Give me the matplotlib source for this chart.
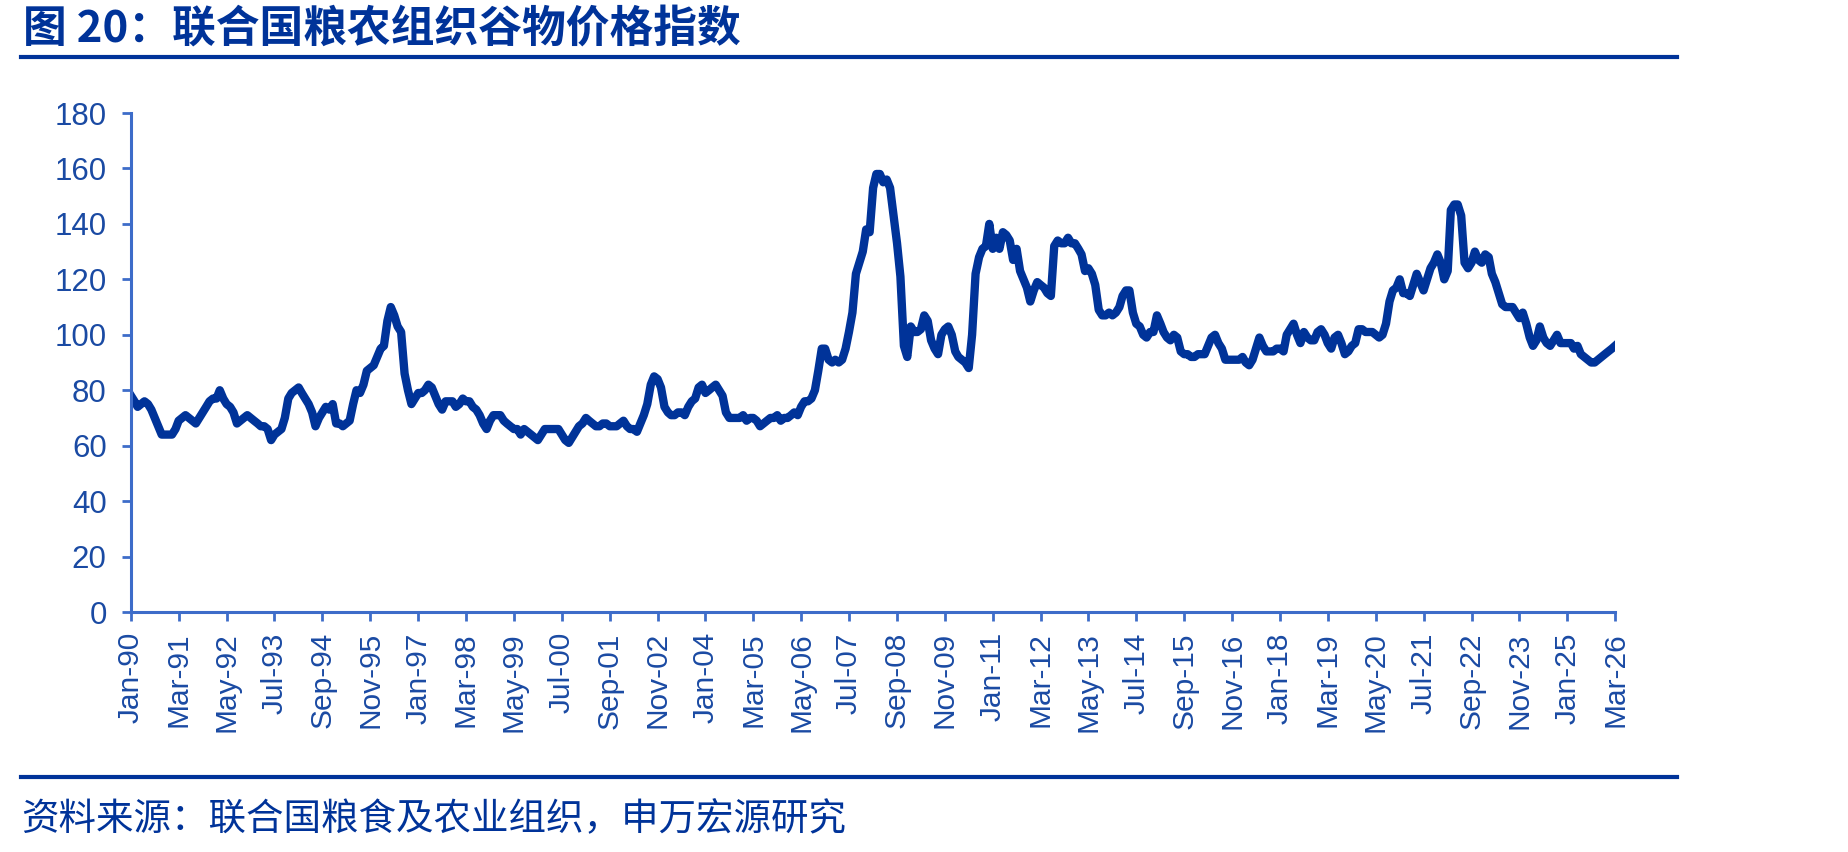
import matplotlib
matplotlib.use("Agg")
import matplotlib.pyplot as plt
import pandas as pd

# FAO cereal price index, monthly, Jan-1990 .. Mar-2026
values_1990s = [
    78, 76, 74, 75, 76, 75, 73, 70, 67, 64, 64, 64,     # 1990
    64, 66, 69, 70, 71, 70, 69, 68, 70, 72, 74, 76,     # 1991
    77, 77, 80, 77, 75, 74, 72, 68, 69, 70, 71, 70,     # 1992
    69, 68, 67, 67, 66, 62, 64, 65, 66, 70, 77, 79,     # 1993
    80, 81, 79, 77, 75, 72, 67, 70, 72, 74, 73, 75,     # 1994
    68, 68, 67, 68, 69, 75, 80, 79, 82, 87, 88, 89,     # 1995
    92, 95, 96, 105, 110, 107, 103, 101, 86, 80, 75, 77,  # 1996
    79, 79, 80, 82, 81, 78, 75, 73, 76, 76, 76, 74,     # 1997
    75, 77, 76, 76, 74, 73, 71, 68, 66, 69, 71, 71,     # 1998
    71, 69, 68, 67, 66, 66, 64, 66, 65, 64, 63, 62,     # 1999
]
values_2000s = [
    64, 66, 66, 66, 66, 66, 64, 62, 61, 63, 65, 67,     # 2000
    68, 70, 69, 68, 67, 67, 68, 68, 67, 67, 67, 68,     # 2001
    69, 67, 66, 66, 65, 68, 71, 75, 82, 85, 84, 81,     # 2002
    74, 72, 71, 71, 72, 72, 71, 74, 76, 77, 81, 82,     # 2003
    79, 80, 81, 82, 80, 78, 72, 70, 70, 70, 70, 71,     # 2004
    69, 70, 70, 69, 67, 68, 69, 70, 70, 71, 69, 70,     # 2005
    70, 71, 72, 71, 74, 76, 76, 77, 80, 87, 95, 95,     # 2006
    91, 90, 91, 90, 91, 95, 101, 108, 122, 126, 130, 138,  # 2007
    137, 153, 158, 158, 155, 156, 153, 143, 133, 121, 96, 92,  # 2008
    103, 101, 101, 102, 107, 105, 98, 95, 93, 100, 102, 103,  # 2009
]
values_2010s = [
    100, 94, 92, 91, 90, 88, 100, 122, 128, 131, 132, 140,  # 2010
    131, 135, 131, 137, 136, 134, 127, 131, 123, 120, 117, 112,  # 2011
    116, 119, 118, 117, 115, 114, 132, 134, 133, 133, 135, 133,  # 2012
    133, 131, 129, 123, 124, 122, 118, 109, 107, 107, 108, 107,  # 2013
    108, 110, 114, 116, 116, 108, 104, 103, 100, 99, 101, 101,  # 2014
    107, 104, 101, 99, 98, 100, 99, 94, 93, 93, 92, 92,  # 2015
    93, 93, 93, 96, 99, 100, 97, 95, 91, 91, 91, 91,     # 2016
    91, 92, 90, 89, 91, 95, 99, 96, 94, 94, 94, 95,      # 2017
    95, 94, 100, 102, 104, 100, 97, 101, 99, 98, 98, 101,  # 2018
    102, 100, 97, 95, 99, 100, 97, 93, 94, 96, 97, 102,  # 2019
]
values_2020s = [
    102, 101, 101, 101, 100, 99, 100, 104, 112, 116, 117, 120,  # 2020
    115, 115, 114, 118, 122, 119, 116, 120, 124, 126, 129, 126,  # 2021
    120, 123, 145, 147, 147, 143, 126, 124, 126, 130, 127, 126,  # 2022
    129, 128, 122, 119, 115, 111, 110, 110, 110, 108, 106, 108,  # 2023
    104, 99, 96, 98, 103, 99, 97, 96, 98, 100, 97, 97,   # 2024
    97, 97, 95, 96, 93, 92, 91, 90, 90, 91, 92, 93,      # 2025
    94, 95, 96,                                          # 2026
]
values = values_1990s + values_2000s + values_2010s + values_2020s

dates = pd.date_range("1990-01-01", periods=len(values), freq="MS")
tick_dates = dates[::14]
tick_labels = [d.strftime("%b-%y") for d in tick_dates]
y_ticks = list(range(0, 181, 20))

title = "图 20：联合国粮农组织谷物价格指数"
source = "资料来源：联合国粮食及农业组织，申万宏源研究"

dark_blue = "#003399"
axis_blue = "#3d6cc9"
label_blue = "#1a4aa3"
cjk = ["Noto Sans CJK SC", "DejaVu Sans"]

plt.rcParams["font.family"] = ["Liberation Sans", "Noto Sans CJK SC", "DejaVu Sans"]

W, H = 1849, 852
fig = plt.figure(figsize=(W / 100, H / 100), dpi=100)
ax = fig.add_axes([131 / W, 1 - 612 / H, (1615 - 131) / W, (612 - 113) / H])

ax.plot(dates, values, color=dark_blue, linewidth=6, solid_joinstyle="round")

ax.set_xlim(dates[0], dates[-1])
ax.set_ylim(0, 180)
ax.set_yticks(y_ticks)
ax.set_xticks(tick_dates)
ax.set_xticklabels(tick_labels, rotation=90, ha="center", va="top")

for side in ["top", "right"]:
    ax.spines[side].set_visible(False)
for side in ["left", "bottom"]:
    ax.spines[side].set_color(axis_blue)
    ax.spines[side].set_linewidth(2.2)
ax.tick_params(axis="both", colors=axis_blue, labelcolor=label_blue,
               labelsize=21.5, width=2.0, length=6.5, direction="out")
ax.tick_params(axis="y", pad=11, labelsize=22.5)
ax.tick_params(axis="x", pad=8)

# header and footer
fig.text(23 / W, 1 - 29 / H, title, fontsize=31.5, fontweight="bold",
         color=dark_blue, family=cjk, ha="left", va="center")
fig.add_artist(plt.Line2D([21 / W, 1677 / W], [1 - 57 / H, 1 - 57 / H],
                          color=dark_blue, linewidth=3))
fig.add_artist(plt.Line2D([21 / W, 1677 / W], [1 - 777 / H, 1 - 777 / H],
                          color=dark_blue, linewidth=3))
fig.text(21 / W, 1 - 820 / H, source, fontsize=27, color=dark_blue,
         family=cjk, ha="left", va="center")

fig.savefig("out.png", dpi=100)
